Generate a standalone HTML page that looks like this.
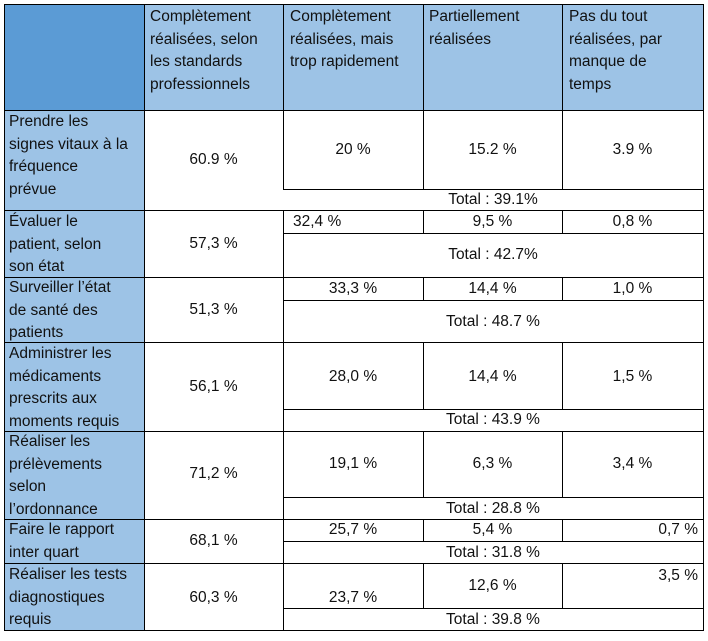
<!DOCTYPE html>
<html><head><meta charset="utf-8"><style>
body{margin:0;width:708px;height:641px;background:#fff;position:relative;font-family:"Liberation Sans",sans-serif;font-size:15.5px;color:#111;overflow:hidden}
.b{position:absolute}
.t{position:absolute;line-height:22.5px;white-space:nowrap}
.c{position:absolute;text-align:center;line-height:20px;white-space:nowrap;transform:translateY(-50%)}
.h{position:absolute;background:#000}
.v{position:absolute;background:#000;width:1.3px}
</style></head><body>
<div class="b" style="left:4px;top:4px;width:140px;height:107px;background:#5b9bd5"></div>
<div class="b" style="left:144px;top:4px;width:559px;height:107px;background:#9dc3e6"></div>
<div class="b" style="left:4px;top:111px;width:140px;height:520px;background:#9dc3e6"></div>

<div class="t" style="left:150px;top:6px">Complètement<br>réalisées, selon<br>les standards<br>professionnels</div>
<div class="t" style="left:290px;top:6px">Complètement<br>réalisées, mais<br>trop rapidement</div>
<div class="t" style="left:429px;top:6px">Partiellement<br>réalisées</div>
<div class="t" style="left:569px;top:6px">Pas du tout<br>réalisées, par<br>manque de<br>temps</div>

<div class="t" style="left:9px;top:111px">Prendre les<br>signes vitaux à la<br>fréquence<br>prévue</div>
<div class="t" style="left:9px;top:211px">Évaluer le<br>patient, selon<br>son état</div>
<div class="t" style="left:9px;top:277px">Surveiller l’état<br>de santé des<br>patients</div>
<div class="t" style="left:9px;top:343px">Administrer les<br>médicaments<br>prescrits aux<br>moments requis</div>
<div class="t" style="left:9px;top:431px">Réaliser les<br>prélèvements<br>selon<br>l’ordonnance</div>
<div class="t" style="left:9px;top:519px">Faire le rapport<br>inter quart</div>
<div class="t" style="left:9px;top:564px">Réaliser les tests<br>diagnostiques<br>requis</div>

<div class="c" style="left:144px;width:139px;top:160px">60.9 %</div>
<div class="c" style="left:144px;width:139px;top:244px">57,3 %</div>
<div class="c" style="left:144px;width:139px;top:310px">51,3 %</div>
<div class="c" style="left:144px;width:139px;top:387px">56,1 %</div>
<div class="c" style="left:144px;width:139px;top:474px">71,2 %</div>
<div class="c" style="left:144px;width:139px;top:541px">68,1 %</div>
<div class="c" style="left:144px;width:139px;top:598px">60,3 %</div>

<div class="c" style="left:283px;width:140px;top:150px">20 %</div>
<div class="c" style="left:423px;width:139px;top:150px">15.2 %</div>
<div class="c" style="left:562px;width:141px;top:150px">3.9 %</div>
<div class="c" style="left:283px;width:420px;top:200px">Total : 39.1%</div>
<div class="c" style="left:293px;top:222px">32,4 %</div>
<div class="c" style="left:423px;width:139px;top:222px">9,5 %</div>
<div class="c" style="left:562px;width:141px;top:222px">0,8 %</div>
<div class="c" style="left:283px;width:420px;top:255px">Total : 42.7%</div>
<div class="c" style="left:283px;width:140px;top:289px">33,3 %</div>
<div class="c" style="left:423px;width:139px;top:289px">14,4 %</div>
<div class="c" style="left:562px;width:141px;top:289px">1,0 %</div>
<div class="c" style="left:283px;width:420px;top:322px">Total : 48.7 %</div>
<div class="c" style="left:283px;width:140px;top:377px">28,0 %</div>
<div class="c" style="left:423px;width:139px;top:377px">14,4 %</div>
<div class="c" style="left:562px;width:141px;top:377px">1,5 %</div>
<div class="c" style="left:283px;width:420px;top:420px">Total : 43.9 %</div>
<div class="c" style="left:283px;width:140px;top:464px">19,1 %</div>
<div class="c" style="left:423px;width:139px;top:464px">6,3 %</div>
<div class="c" style="left:562px;width:141px;top:464px">3,4 %</div>
<div class="c" style="left:283px;width:420px;top:509px">Total : 28.8 %</div>
<div class="c" style="left:283px;width:140px;top:530px">25,7 %</div>
<div class="c" style="left:423px;width:139px;top:530px">5,4 %</div>
<div class="c" style="left:562px;width:136px;top:530px;text-align:right">0,7 %</div>
<div class="c" style="left:283px;width:420px;top:553px">Total : 31.8 %</div>
<div class="c" style="left:283px;width:140px;top:598px">23,7 %</div>
<div class="c" style="left:423px;width:139px;top:586px">12,6 %</div>
<div class="c" style="left:562px;width:136px;top:576px;text-align:right">3,5 %</div>
<div class="c" style="left:283px;width:420px;top:620px">Total : 39.8 %</div>

<div class="h" style="left:4px;width:700px;top:4px;height:1.3px"></div>
<div class="h" style="left:4px;width:700px;top:110px;height:1.3px"></div>
<div class="h" style="left:4px;width:700px;top:210px;height:1.3px"></div>
<div class="h" style="left:4px;width:700px;top:277px;height:1.3px"></div>
<div class="h" style="left:4px;width:700px;top:342px;height:1.3px"></div>
<div class="h" style="left:4px;width:700px;top:431px;height:1.3px"></div>
<div class="h" style="left:4px;width:700px;top:519px;height:1.3px"></div>
<div class="h" style="left:4px;width:700px;top:563px;height:1.3px"></div>
<div class="h" style="left:4px;width:700px;top:630px;height:1.3px"></div>
<div class="h" style="left:283px;width:421px;top:189px;height:1.3px"></div>
<div class="h" style="left:283px;width:421px;top:233px;height:1.3px"></div>
<div class="h" style="left:283px;width:421px;top:300px;height:1.3px"></div>
<div class="h" style="left:283px;width:421px;top:409px;height:1.3px"></div>
<div class="h" style="left:283px;width:421px;top:497px;height:1.3px"></div>
<div class="h" style="left:283px;width:421px;top:541px;height:1.3px"></div>
<div class="h" style="left:283px;width:421px;top:608px;height:1.3px"></div>

<div class="v" style="left:4px;top:4px;height:627px"></div>
<div class="v" style="left:143.5px;top:4px;height:627px"></div>
<div class="v" style="left:703px;top:4px;height:627px"></div>
<div class="v" style="left:283px;top:4px;height:186px"></div>
<div class="v" style="left:283px;top:210px;height:421px"></div>
<div class="v" style="left:422.5px;top:4px;height:186px"></div>
<div class="v" style="left:562px;top:4px;height:186px"></div>
<div class="v" style="left:422.5px;top:210px;height:24px"></div>
<div class="v" style="left:562px;top:210px;height:24px"></div>
<div class="v" style="left:422.5px;top:277px;height:24px"></div>
<div class="v" style="left:562px;top:277px;height:24px"></div>
<div class="v" style="left:422.5px;top:342px;height:68px"></div>
<div class="v" style="left:562px;top:342px;height:68px"></div>
<div class="v" style="left:422.5px;top:431px;height:67px"></div>
<div class="v" style="left:562px;top:431px;height:67px"></div>
<div class="v" style="left:422.5px;top:519px;height:23px"></div>
<div class="v" style="left:562px;top:519px;height:23px"></div>
<div class="v" style="left:422.5px;top:563px;height:46px"></div>
<div class="v" style="left:562px;top:563px;height:46px"></div>
</body></html>
